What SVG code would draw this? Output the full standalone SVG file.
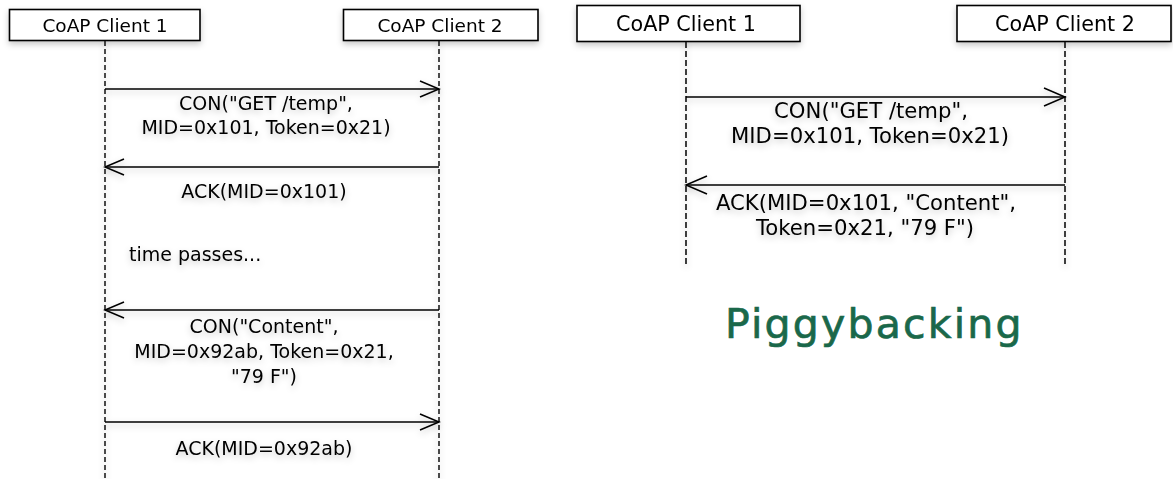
<svg xmlns="http://www.w3.org/2000/svg" width="1173" height="479" viewBox="0 0 1173 479">
  <style>
    .box { fill: #ffffff; stroke: #000000; stroke-width: 1.6; }
    .life { fill: none; stroke: #111111; stroke-width: 1.5; stroke-dasharray: 5 3; }
    .lifeR { fill: none; stroke: #111111; stroke-width: 1.6; stroke-dasharray: 6 3; }
    .msg { fill: none; stroke: #000000; stroke-width: 1.5; }
    .head { fill: none; stroke: #000000; stroke-width: 1.5; stroke-linejoin: miter; }
    .lbl { font-family: "DejaVu Sans", "Liberation Sans", sans-serif; fill: #000000; text-anchor: middle; }
    .s { font-size: 18.5px; }
    .m { font-size: 19px; }
    .sR { font-size: 20.7px; }
    .mR { font-size: 21.2px; }
    .title { font-family: "DejaVu Sans", "Noto Sans", sans-serif; font-size: 41px; fill: #1a684a; stroke: #1a684a; stroke-width: 0.7; letter-spacing: 2.2px; }
  </style>
  <defs>
    <filter id="shadow" x="-10%" y="-30%" width="120%" height="170%">
      <feDropShadow dx="0" dy="3" stdDeviation="3" flood-color="#000000" flood-opacity="0.22"/>
    </filter>
  </defs>
  <rect width="1173" height="479" fill="#ffffff"/>

  <!-- left sequence: separate response -->
  <g id="left-client1" filter="url(#shadow)">
    <rect class="box" x="9.5" y="9.5" width="190.5" height="31"/>
    <text class="lbl s" x="105" y="31.5">CoAP Client 1</text>
  </g>
  <g id="left-client2" filter="url(#shadow)">
    <rect class="box" x="343.5" y="9.5" width="194.5" height="31"/>
    <text class="lbl s" x="440" y="31.5">CoAP Client 2</text>
  </g>

  <!-- right sequence: piggybacked response -->
  <g id="right-client1" filter="url(#shadow)">
    <rect class="box" x="577" y="5.5" width="223" height="36"/>
    <text class="lbl sR" x="686" y="31">CoAP Client 1</text>
  </g>
  <g id="right-client2" filter="url(#shadow)">
    <rect class="box" x="957" y="5.5" width="214" height="36"/>
    <text class="lbl sR" x="1065" y="31">CoAP Client 2</text>
  </g>

  <g id="connectors" filter="url(#shadow)">
    <!-- lifelines -->
    <line class="life" x1="105" y1="41" x2="105" y2="479"/>
    <line class="life" x1="439" y1="41" x2="439" y2="479"/>
    <line class="lifeR" x1="686" y1="42" x2="686" y2="266"/>
    <line class="lifeR" x1="1065" y1="42" x2="1065" y2="266"/>

    <!-- left messages -->
    <line class="msg" x1="105" y1="89" x2="439" y2="89"/>
    <polyline class="head" points="420,81 439,89 420,97"/>
    <line class="msg" x1="439" y1="167" x2="105" y2="167"/>
    <polyline class="head" points="124,159 105,167 124,175"/>
    <line class="msg" x1="439" y1="310" x2="105" y2="310"/>
    <polyline class="head" points="124,302 105,310 124,318"/>
    <line class="msg" x1="105" y1="422" x2="439" y2="422"/>
    <polyline class="head" points="420,414 439,422 420,430"/>

    <!-- right messages -->
    <line class="msg" x1="686" y1="97" x2="1065" y2="97"/>
    <polyline class="head" points="1044,88 1065,97 1044,106"/>
    <line class="msg" x1="1065" y1="185" x2="686" y2="185"/>
    <polyline class="head" points="707,176 686,185 707,194"/>
  </g>

  <g id="left-labels" filter="url(#shadow)">
    <text class="lbl m" x="266" y="110">CON("GET /temp",</text>
    <text class="lbl m" x="266" y="134">MID=0x101, Token=0x21)</text>
    <text class="lbl m" x="264" y="198">ACK(MID=0x101)</text>
    <text class="lbl m" x="129" y="261" style="text-anchor:start">time passes...</text>
    <text class="lbl m" x="264" y="333">CON("Content",</text>
    <text class="lbl m" x="264" y="358">MID=0x92ab, Token=0x21,</text>
    <text class="lbl m" x="264" y="383">"79 F")</text>
    <text class="lbl m" x="264" y="455">ACK(MID=0x92ab)</text>
  </g>

  <g id="right-labels" filter="url(#shadow)">
    <text class="lbl mR" x="871" y="118">CON("GET /temp",</text>
    <text class="lbl mR" x="870" y="143">MID=0x101, Token=0x21)</text>
    <text class="lbl mR" x="866" y="210">ACK(MID=0x101, "Content",</text>
    <text class="lbl mR" x="865" y="235">Token=0x21, "79 F")</text>
  </g>

  <text id="caption" class="title" x="725" y="338">Piggybacking</text>
</svg>
